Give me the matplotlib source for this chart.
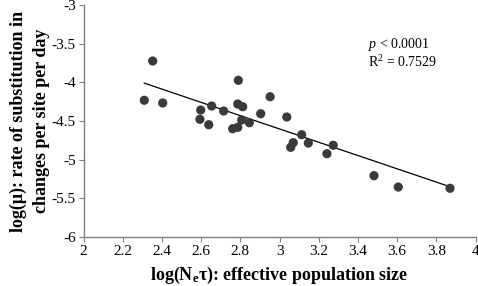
import numpy as np
import matplotlib
matplotlib.use("Agg")
import matplotlib.pyplot as plt

# -------------------------
# DATA
ne_tau = [2.31, 2.353, 2.404, 2.594, 2.598, 2.639, 2.654, 2.715, 2.761,
          2.787, 2.787, 2.790, 2.812, 2.807, 2.846, 2.904, 2.952, 3.037,
          3.057, 3.070, 3.113, 3.147, 3.242, 3.274, 3.482, 3.606, 3.870]
mu = [-4.232, -3.724, -4.267, -4.478, -4.358, -4.548, -4.306, -4.371,
      -4.600, -4.582, -4.280, -3.974, -4.315, -4.487, -4.522, -4.406,
      -4.186, -4.448, -4.840, -4.780, -4.677, -4.785, -4.923, -4.814,
      -5.207, -5.354, -5.370]

fit_x = [2.31, 3.87]
fit_y = [-4.01, -5.35]

xticks = [2, 2.2, 2.4, 2.6, 2.8, 3, 3.2, 3.4, 3.6, 3.8, 4]
yticks = [-6, -5.5, -5, -4.5, -4, -3.5, -3]
# -------------------------

plt.rcParams['font.family'] = ['Liberation Serif', 'DejaVu Serif']
plt.rcParams['mathtext.fontset'] = 'custom'
plt.rcParams['mathtext.rm'] = 'Liberation Serif'
plt.rcParams['mathtext.it'] = 'Liberation Serif:italic'
plt.rcParams['mathtext.bf'] = 'Liberation Serif:bold'

fig = plt.figure(figsize=(4.78, 2.86), dpi=100)
ax = fig.add_axes([0.1747, 0.1713, 0.8201, 0.8112])

ax.plot(fit_x, fit_y, color='black', linewidth=0.9, zorder=2)
ax.scatter(ne_tau, mu, s=44, color='#3a3a3a', edgecolors='none', zorder=3)

ax.set_xlim(2, 4)
ax.set_ylim(-6, -3)
ax.set_xticks(xticks)
ax.set_xticklabels([f"{t:g}" for t in xticks])
ax.set_yticks(yticks)
ax.set_yticklabels([f"{t:g}" for t in yticks])

for s in ['top', 'right']:
    ax.spines[s].set_visible(False)
for s in ['left', 'bottom']:
    ax.spines[s].set_color('#7f7f7f')
    ax.spines[s].set_linewidth(1.0)
ax.tick_params(axis='both', direction='out', length=3.5, width=0.8,
               color='#7f7f7f', labelsize=11, pad=2)

ax.set_xlabel(r"log(N$_{\mathbf{e}}$$\mathbf{\tau}$): effective population size",
              fontsize=13, fontweight='bold', labelpad=5)
ax.set_ylabel("log(\u03bc): rate of substitution in\nchanges per site per day",
              fontsize=13, fontweight='bold', linespacing=1.5, labelpad=1)

ax.text(0.726, 0.828, r"$p$ < 0.0001", transform=ax.transAxes, fontsize=10,
        va='center')
ax.text(0.726, 0.754, r"R$^2$ = 0.7529", transform=ax.transAxes, fontsize=10,
        va='center')

plt.savefig("out.png", dpi=100)
